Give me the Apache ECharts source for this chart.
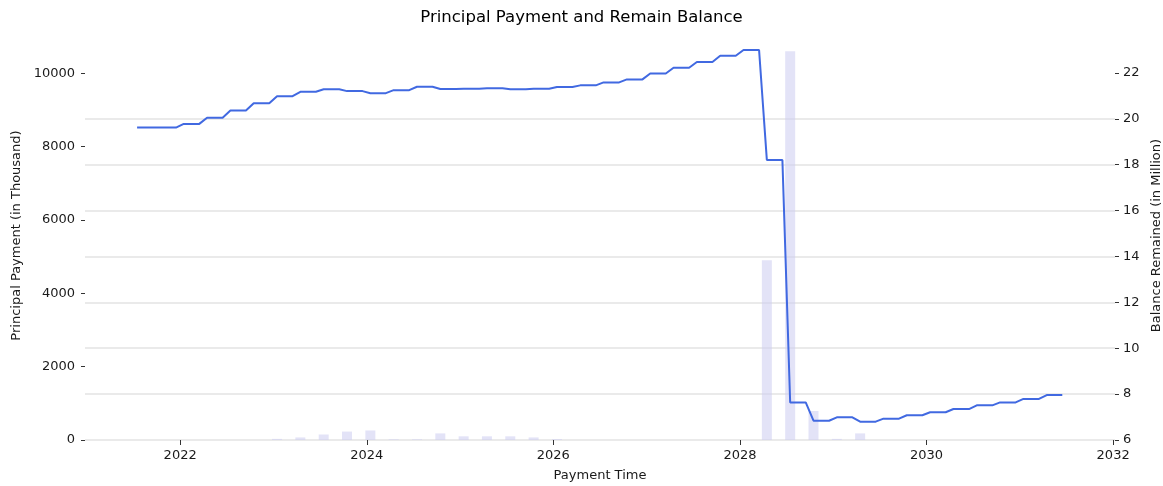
<!DOCTYPE html>
<html><head><meta charset="utf-8">
<script src="https://cdn.jsdelivr.net/npm/echarts@6/dist/echarts.min.js"></script>
<style>html,body{margin:0;padding:0;background:#fff}#c{width:1163px;height:486px}</style>
</head><body><div id="c"></div>
<script>
// Remaining balance (million), monthly from 2021-07
const balanceStart = '2021-07';
const balanceMillion = [
  19.62,19.62,19.62,19.62,19.62,19.62,                         // 2021 Jul-Dec
  19.78,19.78,19.78, 20.05,20.05,20.05, 20.36,20.36,20.36, 20.68,20.68,20.68, // 2022
  20.99,20.99,20.99, 21.18,21.18,21.18, 21.29,21.29,21.29, 21.21,21.21,21.21, // 2023
  21.12,21.12,21.12, 21.25,21.25,21.25, 21.40,21.40,21.40, 21.30,21.30,21.30, // 2024
  21.31,21.31,21.31, 21.33,21.33,21.33, 21.29,21.29,21.29, 21.31,21.31,21.31, // 2025
  21.39,21.39,21.39, 21.46,21.46,21.46, 21.59,21.59,21.59, 21.72,21.72,21.72, // 2026
  21.98,21.98,21.98, 22.23,22.23,22.23, 22.48,22.48,22.48, 22.75,22.75,22.75, // 2027
  23.00,23.00,23.00, 18.21,18.21,18.21, 7.64,7.64,7.64,    6.84,6.84,6.84,    // 2028
  6.99,6.99,6.99,    6.80,6.80,6.80,    6.93,6.93,6.93,    7.08,7.08,7.08,    // 2029
  7.21,7.21,7.21,    7.35,7.35,7.35,    7.51,7.51,7.51,    7.64,7.64,7.64,    // 2030
  7.79,7.79,7.79,    7.96,7.96,7.96                                            // 2031 Jan-Jun
];
// Principal payments (thousand), quarterly
const paymentMonths = ['2023-01','2023-04','2023-07','2023-10','2024-01','2024-04','2024-07','2024-10',
  '2025-01','2025-04','2025-07','2025-10','2026-01','2028-04','2028-07','2028-10','2029-01','2029-04'];
const paymentThousand = [30, 70, 150, 230, 260, 20, 20, 180,
  100, 100, 100, 70, 25, 4900, 10600, 790, 30, 180];
const xTicks = [2022, 2024, 2026, 2028, 2030, 2032];
const leftTicks = [0, 2000, 4000, 6000, 8000, 10000];
const rightTicks = [6, 8, 10, 12, 14, 16, 18, 20, 22];

function toYear(s) {
  const p = s.split('-').map(Number);
  return p[0] + (p[1] - 1) / 12 + 14 / 365;
}
function addMonths(s, k) {
  const p = s.split('-').map(Number);
  const t = p[0] * 12 + (p[1] - 1) + k;
  return Math.floor(t / 12) + '-' + String(t % 12 + 1).padStart(2, '0');
}
const lineData = balanceMillion.map((v, i) => [toYear(addMonths(balanceStart, i)), v]);
const barData = paymentMonths.map((m, i) => [toYear(m), paymentThousand[i]]);

const font = 'DejaVu Sans';
const txt = '#1a1a1a';
const plain = v => String(Math.round(v));
const chart = echarts.init(document.getElementById('c'), null, {renderer: 'canvas'});
chart.setOption({
  animation: false,
  textStyle: {fontFamily: font},
  title: {text: 'Principal Payment and Remain Balance', left: 'center', top: 4,
    textStyle: {fontSize: 16.5, fontWeight: 'normal', color: '#000', fontFamily: font}},
  grid: {left: 85, right: 48, top: 31, bottom: 46, containLabel: false, outerBoundsMode: 'none'},
  xAxis: {
    type: 'value', min: 2020.98, max: 2032.02,
    name: 'Payment Time', nameLocation: 'middle', nameGap: 29,
    nameTextStyle: {fontSize: 13, color: txt, fontFamily: font},
    axisLine: {show: false},
    axisTick: {show: true, length: 5, customValues: xTicks, lineStyle: {color: '#333'}},
    axisLabel: {customValues: xTicks, formatter: plain, margin: 9, fontSize: 13, color: txt, fontFamily: font},
    splitLine: {show: false}
  },
  yAxis: [{
    type: 'value', min: 0, max: 11150, position: 'left',
    name: 'Principal Payment (in Thousand)', nameLocation: 'middle', nameGap: 55, nameRotate: 90,
    nameTextStyle: {fontSize: 13, color: txt, fontFamily: font},
    axisLine: {show: false},
    axisTick: {show: true, length: 4, customValues: leftTicks, lineStyle: {color: '#333'}},
    axisLabel: {customValues: leftTicks, formatter: plain, margin: 10, fontSize: 13, color: txt, fontFamily: font},
    splitLine: {show: false}
  }, {
    type: 'value', min: 6, max: 23.83, interval: 2, position: 'right',
    name: 'Balance Remained (in Million)', nameLocation: 'middle', nameGap: 30, nameRotate: 90,
    nameTextStyle: {fontSize: 13, color: txt, fontFamily: font},
    axisLine: {show: false},
    axisTick: {show: true, length: 4, customValues: rightTicks, lineStyle: {color: '#333'}},
    axisLabel: {customValues: rightTicks, formatter: plain, margin: 8, fontSize: 13, color: txt, fontFamily: font},
    splitLine: {show: true, showMaxLine: false, lineStyle: {color: '#e3e3e3', width: 1.5}}
  }],
  series: [{
    type: 'bar', yAxisIndex: 0, data: barData, barWidth: 10,
    itemStyle: {color: 'rgba(204,204,240,0.55)'}, z: 2
  }, {
    type: 'line', yAxisIndex: 1, data: lineData, showSymbol: false,
    lineStyle: {color: '#4169e1', width: 2}, z: 3
  }]
});
</script></body></html>
